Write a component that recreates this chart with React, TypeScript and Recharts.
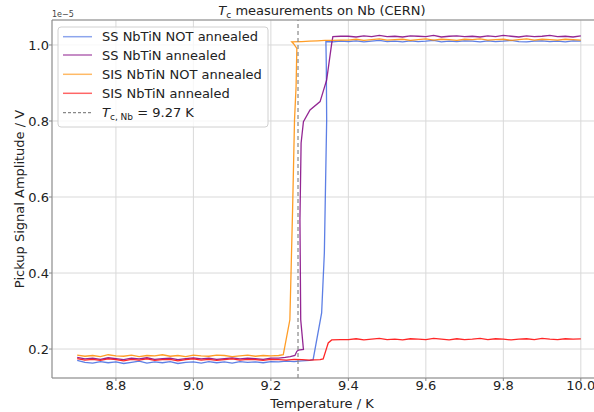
import { LineChart, Line, XAxis, YAxis, CartesianGrid, ReferenceLine } from 'recharts';

const font = 'DejaVu Sans';

// shared temperature grids for the flat parts (K)
const lowT = [8.7, 8.72, 8.74, 8.76, 8.78, 8.8, 8.82, 8.84, 8.86, 8.88, 8.9, 8.92, 8.94, 8.96, 8.98, 9.0, 9.02, 9.04, 9.06, 9.08, 9.1, 9.12, 9.14, 9.16, 9.18, 9.2];
const highT = [9.4, 9.42, 9.44, 9.46, 9.48, 9.5, 9.52, 9.54, 9.56, 9.58, 9.6, 9.62, 9.64, 9.66, 9.68, 9.7, 9.72, 9.74, 9.76, 9.78, 9.8, 9.82, 9.84, 9.86, 9.88, 9.9, 9.92, 9.94, 9.96, 9.98, 10.0];

// SS NbTiN NOT annealed (values in 1e-5 V)
const ssNotLow = [0.17, 0.165, 0.163, 0.167, 0.164, 0.166, 0.162, 0.165, 0.168, 0.163, 0.166, 0.164, 0.167, 0.162, 0.165, 0.166, 0.163, 0.167, 0.164, 0.166, 0.163, 0.167, 0.165, 0.166, 0.164, 0.167];
const ssNotMidT = [9.22, 9.24, 9.26, 9.28, 9.3, 9.309, 9.331, 9.338, 9.344, 9.343, 9.342, 9.36, 9.38];
const ssNotMidV = [0.166, 0.168, 0.167, 0.169, 0.17, 0.172, 0.295, 0.453, 0.803, 0.95, 1.009, 1.008, 1.01];
const ssNotHigh = [1.009, 1.011, 1.008, 1.01, 1.012, 1.009, 1.01, 1.008, 1.011, 1.009, 1.01, 1.012, 1.008, 1.01, 1.009, 1.011, 1.01, 1.008, 1.011, 1.009, 1.01, 1.012, 1.009, 1.008, 1.01, 1.011, 1.009, 1.01, 1.008, 1.011, 1.01];

// SS NbTiN annealed
const ssAnnLow = [0.178, 0.174, 0.176, 0.173, 0.177, 0.175, 0.172, 0.176, 0.174, 0.177, 0.173, 0.175, 0.176, 0.172, 0.175, 0.177, 0.174, 0.176, 0.173, 0.175, 0.177, 0.174, 0.176, 0.175, 0.173, 0.176];
const ssAnnMidT = [9.22, 9.237, 9.25, 9.262, 9.267, 9.271, 9.284, 9.277, 9.275, 9.278, 9.284, 9.301, 9.327, 9.344, 9.357, 9.36, 9.38];
const ssAnnMidV = [0.176, 0.178, 0.18, 0.183, 0.194, 0.197, 0.199, 0.277, 0.54, 0.742, 0.798, 0.829, 0.851, 0.908, 1.004, 1.022, 1.023];
const ssAnnHigh = [1.023, 1.021, 1.024, 1.022, 1.025, 1.022, 1.023, 1.021, 1.024, 1.023, 1.022, 1.025, 1.021, 1.023, 1.024, 1.022, 1.023, 1.021, 1.024, 1.022, 1.025, 1.023, 1.021, 1.024, 1.022, 1.023, 1.025, 1.022, 1.023, 1.021, 1.024];

// SIS NbTiN NOT annealed
const sisNotLow = [0.184, 0.181, 0.183, 0.18, 0.185, 0.182, 0.181, 0.184, 0.18, 0.183, 0.182, 0.185, 0.181, 0.183, 0.18, 0.184, 0.182, 0.181, 0.184, 0.183, 0.18, 0.182, 0.184, 0.181, 0.183, 0.182];
const sisNotMidT = [9.22, 9.232, 9.249, 9.256, 9.261, 9.265, 9.267, 9.258, 9.254, 9.28, 9.3, 9.32, 9.34, 9.36, 9.38];
const sisNotMidV = [0.183, 0.185, 0.277, 0.566, 0.803, 0.89, 0.991, 1.004, 1.008, 1.009, 1.01, 1.011, 1.012, 1.012, 1.013];
const sisNotHigh = [1.013, 1.015, 1.012, 1.014, 1.016, 1.013, 1.014, 1.015, 1.012, 1.014, 1.016, 1.013, 1.015, 1.014, 1.012, 1.015, 1.014, 1.016, 1.013, 1.014, 1.015, 1.012, 1.014, 1.016, 1.013, 1.015, 1.014, 1.013, 1.015, 1.014, 1.013];

// SIS NbTiN annealed
const sisAnnLow = [0.175, 0.171, 0.173, 0.17, 0.174, 0.172, 0.169, 0.173, 0.171, 0.174, 0.17, 0.172, 0.173, 0.169, 0.172, 0.174, 0.171, 0.173, 0.17, 0.172, 0.174, 0.171, 0.173, 0.172, 0.17, 0.173];
const sisAnnMidT = [9.22, 9.24, 9.26, 9.28, 9.3, 9.327, 9.335, 9.344, 9.348, 9.357, 9.38];
const sisAnnMidV = [0.172, 0.171, 0.173, 0.172, 0.171, 0.172, 0.174, 0.203, 0.216, 0.224, 0.225];
const sisAnnHigh = [0.225, 0.227, 0.224, 0.226, 0.228, 0.225, 0.226, 0.224, 0.227, 0.226, 0.225, 0.228, 0.226, 0.224, 0.227, 0.225, 0.226, 0.228, 0.225, 0.227, 0.226, 0.224, 0.226, 0.227, 0.225, 0.228, 0.226, 0.225, 0.227, 0.226, 0.227];

const xTicks = [8.8, 9.0, 9.2, 9.4, 9.6, 9.8, 10.0];
const yTicks = [0.2, 0.4, 0.6, 0.8, 1.0];
const tcNb = 9.27;

const build = (low: number[], midT: number[], midV: number[], high: number[]) => [
  ...lowT.map((t, i) => ({ t, v: low[i] })),
  ...midT.map((t, i) => ({ t, v: midV[i] })),
  ...highT.map((t, i) => ({ t, v: high[i] })),
];

const series = [
  { name: 'SS NbTiN NOT annealed', color: '#4169e1', data: build(ssNotLow, ssNotMidT, ssNotMidV, ssNotHigh) },
  { name: 'SS NbTiN annealed', color: '#800080', data: build(ssAnnLow, ssAnnMidT, ssAnnMidV, ssAnnHigh) },
  { name: 'SIS NbTiN NOT annealed', color: '#ff8c00', data: build(sisNotLow, sisNotMidT, sisNotMidV, sisNotHigh) },
  { name: 'SIS NbTiN annealed', color: '#ff0000', data: build(sisAnnLow, sisAnnMidT, sisAnnMidV, sisAnnHigh) },
];

const legendRows = [36.7, 55, 74.3, 93.3, 112.7];

export default function App() {
  return (
    <div style={{ position: 'absolute', left: 0, top: 0, width: 594, height: 412, overflow: 'hidden', background: '#fff' }}>
      <LineChart width={620} height={412} margin={{ top: 20, right: 14, left: 0, bottom: 0 }}>
        <CartesianGrid stroke="#d9d9d9" strokeWidth={1} />
        <XAxis
          type="number"
          dataKey="t"
          domain={[8.635, 10.065]}
          ticks={xTicks}
          allowDataOverflow
          height={34}
          tickSize={3}
          tickMargin={0}
          stroke="#888"
          tickFormatter={(v) => v.toFixed(1)}
          tick={{ fill: '#222', fontSize: 13, fontFamily: font }}
        />
        <YAxis
          type="number"
          dataKey="v"
          domain={[0.1238, 1.0657]}
          ticks={yTicks}
          allowDataOverflow
          width={52}
          tickSize={3}
          tickMargin={0}
          stroke="#888"
          tickFormatter={(v) => v.toFixed(1)}
          tick={{ fill: '#222', fontSize: 13, fontFamily: font }}
        />
        {series.map((s) => (
          <Line
            key={s.name}
            data={s.data}
            dataKey="v"
            type="linear"
            stroke={s.color}
            strokeOpacity={0.85}
            strokeWidth={1.3}
            dot={false}
            isAnimationActive={false}
          />
        ))}
        <ReferenceLine x={tcNb} stroke="#888" strokeWidth={1.2} strokeDasharray="4 3" />
      </LineChart>

      {/* text, top spine and legend drawn on top */}
      <svg width={594} height={412} style={{ position: 'absolute', left: 0, top: 0, pointerEvents: 'none' }} fontFamily={font}>
        <line x1={52} y1={20} x2={594} y2={20} stroke="#888" />
        <text x={322} y={15} fontSize={13} textAnchor="middle" fill="#222">
          <tspan fontStyle="italic">T</tspan>
          <tspan fontSize={9} dy={3}>c</tspan>
          <tspan dy={-3}> measurements on Nb (CERN)</tspan>
        </text>
        <text x={52} y={17} fontSize={8} fill="#444">1e−5</text>
        <text x={322} y={408} fontSize={13} textAnchor="middle" fill="#222">Temperature / K</text>
        <text x={24} y={199} fontSize={13} textAnchor="middle" fill="#222" transform="rotate(-90 24 199)">
          Pickup Signal Amplitude / V
        </text>

        <rect x={58} y={27} width={210} height={100} rx={3} fill="#fff" fillOpacity={0.8} stroke="#d0d0d0" />
        {series.map((s, i) => (
          <g key={s.name}>
            <line x1={63} y1={legendRows[i]} x2={92} y2={legendRows[i]} stroke={s.color} strokeOpacity={0.6} strokeWidth={1.5} />
            <text x={102} y={legendRows[i] + 4.5} fontSize={13} fill="#222">{s.name}</text>
          </g>
        ))}
        <line x1={63} y1={legendRows[4]} x2={92} y2={legendRows[4]} stroke="#888" strokeWidth={1.2} strokeDasharray="3 2" />
        <text x={102} y={legendRows[4] + 4.5} fontSize={13} fill="#222">
          <tspan fontStyle="italic">T</tspan>
          <tspan fontSize={9} dy={3}>c, Nb</tspan>
          <tspan dy={-3}> = 9.27 K</tspan>
        </text>
      </svg>
    </div>
  );
}
